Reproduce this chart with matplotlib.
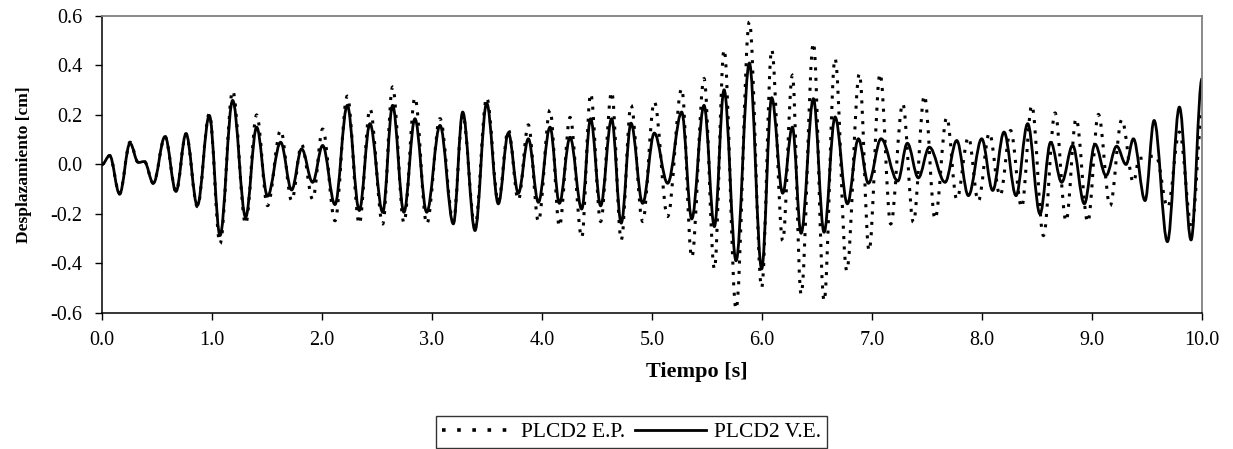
import matplotlib
matplotlib.use("Agg")
import matplotlib.pyplot as plt
from matplotlib.path import Path
from matplotlib.patches import PathPatch
from matplotlib.lines import Line2D

# ---- data (turning points of each curve) ----
ve_t = [0.00, 0.07, 0.16, 0.255, 0.33, 0.385, 0.467, 0.573, 0.673, 0.764,
        0.867, 0.976, 1.073, 1.188, 1.306, 1.406, 1.505, 1.624, 1.724, 1.815,
        1.915, 2.006, 2.118, 2.230, 2.339, 2.436, 2.552, 2.642, 2.745, 2.845,
        2.952, 3.073, 3.194, 3.279, 3.391, 3.497, 3.603, 3.694, 3.785, 3.876,
        3.967, 4.073, 4.158, 4.255, 4.361, 4.442, 4.533, 4.633, 4.720, 4.809,
        4.915, 5.021, 5.142, 5.270, 5.361, 5.473, 5.567, 5.655, 5.764, 5.885,
        5.997, 6.088, 6.188, 6.276, 6.355, 6.467, 6.564, 6.664, 6.776, 6.876,
        6.967, 7.082, 7.234, 7.321, 7.421, 7.521, 7.664, 7.770, 7.876, 7.997,
        8.097, 8.200, 8.309, 8.415, 8.527, 8.624, 8.724, 8.824, 8.930, 9.027,
        9.127, 9.224, 9.309, 9.376, 9.482, 9.564, 9.685, 9.794, 9.900, 10.000]
ve_v = [0.000, 0.036, -0.119, 0.086, 0.008, 0.012, -0.076, 0.113, -0.109, 0.124,
        -0.166, 0.198, -0.287, 0.259, -0.213, 0.151, -0.128, 0.090, -0.103, 0.063,
        -0.072, 0.077, -0.162, 0.239, -0.186, 0.165, -0.193, 0.239, -0.193, 0.185,
        -0.193, 0.158, -0.240, 0.212, -0.267, 0.248, -0.159, 0.127, -0.116, 0.104,
        -0.153, 0.151, -0.157, 0.110, -0.180, 0.185, -0.167, 0.185, -0.237, 0.167,
        -0.157, 0.127, -0.076, 0.212, -0.220, 0.239, -0.251, 0.302, -0.389, 0.410,
        -0.422, 0.270, -0.116, 0.151, -0.278, 0.266, -0.274, 0.192, -0.159, 0.104,
        -0.076, 0.104, -0.067, 0.086, -0.054, 0.070, -0.072, 0.097, -0.126, 0.104,
        -0.105, 0.131, -0.126, 0.165, -0.200, 0.090, -0.072, 0.077, -0.159, 0.082,
        -0.045, 0.074, 0.000, 0.104, -0.146, 0.178, -0.312, 0.232, -0.305, 0.347]

ep_t = [0.00, 0.07, 0.16, 0.255, 0.33, 0.385, 0.467, 0.573, 0.673, 0.764,
        0.867, 0.976, 1.073, 1.188, 1.306, 1.406, 1.505, 1.624, 1.724, 1.815,
        1.915, 2.006, 2.118, 2.230, 2.339, 2.436, 2.552, 2.642, 2.745, 2.845,
        2.952, 3.073, 3.194, 3.279, 3.391, 3.497, 3.603, 3.694, 3.785, 3.876,
        3.967, 4.073, 4.158, 4.255, 4.361, 4.442, 4.533, 4.633, 4.720, 4.809,
        4.915, 5.021, 5.142, 5.270, 5.361, 5.473, 5.567, 5.655, 5.764, 5.885,
        5.997, 6.088, 6.188, 6.276, 6.355, 6.467, 6.564, 6.664, 6.770, 6.885,
        6.973, 7.073, 7.170, 7.279, 7.376, 7.476, 7.573, 7.679, 7.770, 7.876,
        7.966, 8.066, 8.164, 8.260, 8.360, 8.452, 8.558, 8.664, 8.764, 8.855,
        8.961, 9.058, 9.164, 9.270, 9.376, 9.430, 9.580, 9.688, 9.794, 9.906,
        10.000]
ep_v = [0.000, 0.036, -0.119, 0.090, 0.008, 0.012, -0.076, 0.113, -0.109, 0.124,
        -0.170, 0.205, -0.320, 0.297, -0.240, 0.200, -0.166, 0.138, -0.146, 0.080,
        -0.140, 0.143, -0.227, 0.276, -0.240, 0.225, -0.240, 0.313, -0.235, 0.270,
        -0.240, 0.185, -0.230, 0.200, -0.250, 0.270, -0.150, 0.140, -0.143, 0.160,
        -0.230, 0.220, -0.250, 0.190, -0.295, 0.286, -0.230, 0.293, -0.305, 0.239,
        -0.230, 0.253, -0.210, 0.306, -0.375, 0.347, -0.422, 0.464, -0.584, 0.576,
        -0.497, 0.464, -0.308, 0.360, -0.524, 0.491, -0.551, 0.428, -0.429, 0.367,
        -0.348, 0.367, -0.240, 0.246, -0.233, 0.279, -0.220, 0.190, -0.140, 0.110,
        -0.148, 0.127, -0.126, 0.137, -0.173, 0.239, -0.287, 0.208, -0.229, 0.185,
        -0.233, 0.202, -0.166, 0.181, -0.072, 0.025, 0.035, -0.173, 0.131, -0.254,
        0.200]

series_labels = ["PLCD2 E.P.", "PLCD2 V.E."]
x_ticks = [0, 1, 2, 3, 4, 5, 6, 7, 8, 9, 10]
y_ticks = [-0.6, -0.4, -0.2, 0.0, 0.2, 0.4, 0.6]
x_label = "Tiempo [s]"
y_label = "Desplazamiento [cm]"

plt.rcParams['font.family'] = ['Liberation Serif', 'DejaVu Serif']
plt.rcParams['axes.unicode_minus'] = False


def smooth_path(ts, vs):
    """Smoothed line through the read points (Bezier segments, flat at each point)."""
    verts = [(ts[0], vs[0])]
    codes = [Path.MOVETO]
    for i in range(len(ts) - 1):
        t0, v0, t1, v1 = ts[i], vs[i], ts[i + 1], vs[i + 1]
        d = (t1 - t0) * 0.36
        verts += [(t0 + d, v0), (t1 - d, v1), (t1, v1)]
        codes += [Path.CURVE4] * 3
    return Path(verts, codes)


fig = plt.figure(figsize=(12.33, 4.49), dpi=100)
ax = fig.add_axes([0.0827, 0.3029, 0.8922, 0.6615])

lw_dot = 2.2
lw_sol = 2.0
dot_style = (0, (1, 2.4))
ax.add_patch(PathPatch(smooth_path(ep_t, ep_v), fill=False, edgecolor='black',
                       linewidth=lw_dot, linestyle=dot_style, capstyle='butt'))
ax.add_patch(PathPatch(smooth_path(ve_t, ve_v), fill=False, edgecolor='black',
                       linewidth=lw_sol, linestyle='-', joinstyle='round'))

ax.set_xlim(0, 10)
ax.set_ylim(-0.6, 0.6)
ax.set_xticks(x_ticks)
ax.set_xticklabels([f"{v:.1f}" for v in x_ticks])
ax.set_yticks(y_ticks)
ax.set_yticklabels([f"{v:.1f}" for v in y_ticks])
ax.tick_params(axis='both', direction='out', length=5, width=1.0, labelsize=14.5,
               colors='black')
ax.tick_params(axis='x', pad=8)
ax.tick_params(axis='y', pad=9)

for s in ['top', 'right']:
    ax.spines[s].set_color('#808080')
    ax.spines[s].set_linewidth(1.3)
for s in ['left', 'bottom']:
    ax.spines[s].set_color('black')
    ax.spines[s].set_linewidth(1.1)

fig.text(697 / 1233, 1 - 372 / 449, x_label, ha='center', va='center',
         fontsize=16, fontweight='bold')
fig.text(24 / 1233, 1 - 164.5 / 449, y_label, ha='center', va='center',
         rotation=90, fontsize=12.5, fontweight='bold')

handles = [Line2D([], [], color='black', linewidth=2.6, linestyle=(0, (1, 3.2)),
                  dash_capstyle='butt'),
           Line2D([], [], color='black', linewidth=lw_sol, linestyle='-')]
leg = fig.legend(handles, series_labels, loc='center',
                 bbox_to_anchor=(631.5 / 1233, 1 - 432 / 449),
                 ncol=2, frameon=True, fancybox=False, edgecolor='black',
                 fontsize=15.5, handlelength=3.3, handletextpad=0.35,
                 columnspacing=0.5, borderpad=0.3, borderaxespad=0.0)
leg.get_frame().set_linewidth(1.0)

fig.savefig("out.png", dpi=100)
